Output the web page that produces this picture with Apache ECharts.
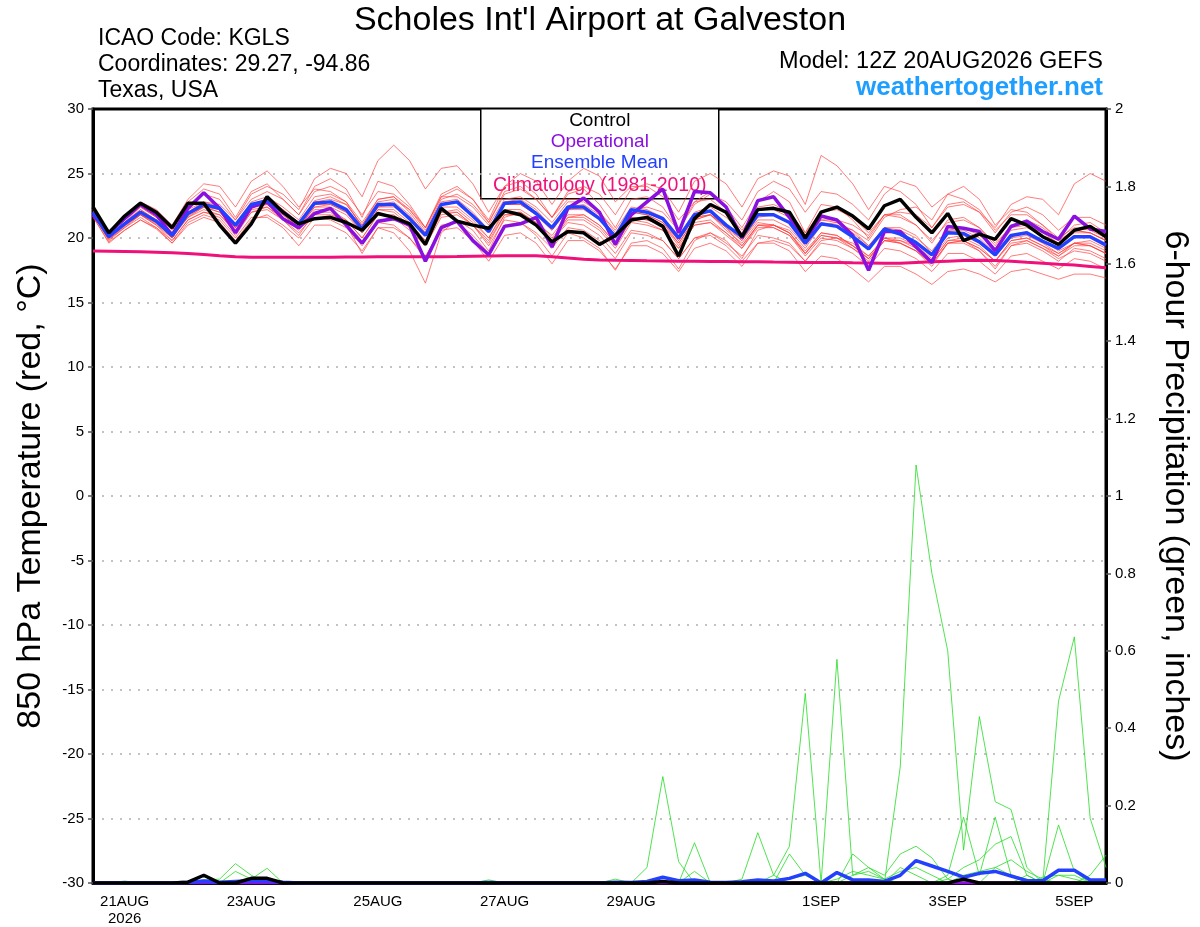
<!DOCTYPE html>
<html>
<head>
<meta charset="utf-8">
<title>Scholes Int'l Airport at Galveston</title>
<script src="https://cdn.jsdelivr.net/npm/echarts@6/dist/echarts.min.js"></script>
<style>
  html, body { margin: 0; padding: 0; background: #fff; }
  #chart { width: 1200px; height: 927px; }
</style>
</head>
<body>
<div id="chart"></div>
<script>
// 6-hourly steps from 20AUG 12Z to 5SEP 12Z (65 points)
const dayLabels = { 2: '21AUG\n2026', 10: '23AUG', 18: '25AUG', 26: '27AUG', 34: '29AUG', 46: '1SEP', 54: '3SEP', 62: '5SEP' };
const steps = Array.from({ length: 65 }, (v, i) => String(i));

const tempTicks = [-30, -25, -20, -15, -10, -5, 0, 5, 10, 15, 20, 25, 30];
const precipTicks = [0, 0.2, 0.4, 0.6, 0.8, 1, 1.2, 1.4, 1.6, 1.8, 2];

// 850 hPa temperature (C)
const control = [22.4,20.4,21.7,22.7,22.0,20.8,22.7,22.7,21.0,19.6,21.1,23.2,22.0,21.1,21.5,21.6,21.2,20.6,21.9,21.6,21.1,19.5,22.3,21.3,21.0,20.75,22.1,21.8,21.0,19.7,20.5,20.4,19.5,20.2,21.4,21.6,20.9,18.6,21.5,22.6,22.0,20.1,22.2,22.3,22.0,20.0,22.0,22.4,21.7,20.7,22.5,23.0,21.6,20.4,21.9,19.8,20.3,19.9,21.5,21.0,20.1,19.5,20.6,20.9,20.1];
const operational = [21.8,20.4,21.5,22.6,21.8,20.2,22.3,23.5,22.3,20.4,22.4,22.8,21.5,20.8,21.9,22.3,21.0,19.6,21.3,21.5,21.0,18.2,20.8,21.3,19.8,18.7,20.9,21.1,21.6,19.3,22.3,23.1,22.0,19.5,21.8,22.8,23.8,20.4,23.6,23.5,22.4,20.0,22.9,23.2,21.6,19.8,21.7,21.4,20.2,17.5,20.5,20.5,19.3,18.1,20.9,20.75,20.5,19.0,20.9,21.3,20.5,19.9,21.7,20.7,20.5];
const ensMean = [22.0,20.1,21.1,22.0,21.3,20.2,21.9,22.6,22.3,21.0,22.6,22.9,22.0,21.1,22.7,22.8,22.2,20.7,22.6,22.6,21.5,20.2,22.6,22.8,21.7,20.5,22.7,22.8,21.9,20.8,22.4,22.4,21.5,20.1,22.2,22.0,21.5,20.0,21.8,22.1,21.0,20.1,21.8,21.8,21.2,19.6,21.1,20.9,20.1,19.15,20.7,20.3,19.65,18.7,20.4,20.35,19.7,18.7,20.2,20.4,19.75,19.2,20.1,20.1,19.45];
const climatology = [19.0,18.98,18.96,18.93,18.9,18.86,18.8,18.72,18.62,18.55,18.5,18.5,18.5,18.5,18.5,18.5,18.52,18.53,18.55,18.55,18.55,18.55,18.55,18.56,18.58,18.6,18.62,18.63,18.62,18.55,18.45,18.35,18.3,18.27,18.25,18.23,18.22,18.2,18.2,18.18,18.17,18.15,18.15,18.13,18.12,18.1,18.1,18.1,18.08,18.07,18.05,18.05,18.1,18.15,18.2,18.25,18.27,18.25,18.2,18.12,18.05,17.97,17.9,17.8,17.7];

const tempMembers = [
  [22.3,20.3,21.6,22.6,21.9,20.6,22.8,23.8,23.4,21.6,23.6,24.2,23.0,21.8,24.0,24.6,23.8,21.6,24.4,24.0,22.6,20.8,23.4,24.0,23.0,21.2,23.6,24.0,23.0,21.6,23.4,23.8,22.6,20.8,23.0,23.2,22.4,20.6,22.8,23.6,22.4,20.8,22.8,23.6,22.8,20.4,22.6,22.4,21.4,20.0,21.8,21.8,21.0,19.6,21.4,21.6,20.8,19.4,21.0,21.4,20.8,19.8,21.0,21.2,20.4],
  [21.6,19.7,20.6,21.4,20.7,19.6,21.0,21.6,21.2,19.8,21.4,21.8,21.0,20.0,21.6,21.4,20.8,19.4,21.2,21.0,20.0,18.4,21.0,21.2,20.2,18.8,21.0,21.2,20.4,19.2,20.8,20.6,19.8,18.4,20.4,20.2,19.8,18.4,20.0,20.4,19.6,18.6,20.2,20.0,19.6,18.2,19.6,19.4,18.8,17.8,19.2,19.0,18.4,17.4,18.8,18.8,18.2,17.2,18.6,18.8,18.2,17.6,18.4,18.2,17.6],
  [22.2,20.0,21.2,22.4,21.6,20.4,22.4,23.4,23.0,21.4,23.4,24.0,23.4,22.2,24.6,25.4,25.0,23.2,26.0,27.2,26.0,23.8,25.4,25.6,24.2,22.0,24.0,24.4,23.4,21.6,23.0,23.0,22.0,20.4,22.0,21.8,21.2,19.6,21.4,21.8,20.8,19.4,21.0,21.0,20.4,18.8,20.4,20.2,19.4,18.4,19.8,19.6,19.0,18.0,19.6,19.8,19.2,18.2,19.8,20.0,19.4,18.6,19.6,19.6,19.0],
  [21.9,19.9,20.8,21.8,21.0,19.8,21.4,22.0,21.6,20.2,22.0,22.4,21.4,20.2,22.0,22.0,21.0,18.8,20.8,20.4,19.0,16.5,20.4,21.4,20.6,19.0,21.6,22.0,21.2,19.8,21.6,21.8,21.0,19.6,21.6,21.4,21.0,19.4,21.2,21.4,20.4,19.4,21.0,21.0,20.4,18.8,20.2,20.0,19.2,18.2,19.8,19.6,19.0,18.0,19.6,19.8,19.0,17.8,19.4,19.8,19.2,18.6,19.4,19.4,18.8],
  [22.1,20.2,21.2,22.0,21.2,20.0,21.8,22.6,22.4,21.0,22.8,23.2,22.4,21.4,23.2,23.4,22.8,21.2,23.0,23.2,22.2,20.6,23.0,23.4,22.6,21.2,23.4,23.8,23.0,21.6,23.6,24.0,23.4,21.8,23.8,24.2,23.8,22.0,24.4,25.0,24.2,22.4,24.6,25.2,24.8,22.6,26.4,25.6,24.2,22.2,24.0,23.6,22.6,20.8,22.6,22.8,22.0,20.4,22.0,22.4,21.8,20.6,21.6,21.6,21.0],
  [22.0,20.0,21.0,21.8,21.2,20.2,21.6,22.2,21.8,20.6,22.2,22.4,21.6,20.6,22.2,22.2,21.4,20.0,21.8,21.6,20.6,19.4,21.6,21.8,21.0,19.8,21.8,21.8,21.0,19.8,21.2,21.0,20.2,18.8,20.6,20.4,19.8,18.4,20.0,20.2,19.4,18.2,19.6,19.6,19.0,17.4,18.6,18.4,17.6,16.6,17.8,17.8,17.2,16.4,17.4,17.6,17.2,16.6,17.4,17.6,17.2,16.8,17.2,17.2,16.9],
  [22.4,20.4,21.4,22.4,21.6,20.4,22.2,22.8,22.6,21.4,23.0,23.6,23.0,21.8,23.6,24.0,23.4,21.8,23.6,23.4,22.4,20.8,23.2,23.2,22.4,21.0,23.0,23.2,22.4,21.2,22.8,22.8,22.0,20.6,22.4,22.2,21.6,20.2,22.0,22.4,21.6,20.4,22.4,22.6,22.0,20.4,22.0,22.2,21.6,20.4,21.8,21.6,21.0,19.8,21.2,21.4,20.8,19.6,20.8,21.0,20.4,19.6,20.6,20.4,19.8],
  [21.8,19.8,20.8,21.6,20.8,19.8,21.4,22.0,21.8,20.4,22.0,22.2,21.4,20.4,21.8,21.8,21.4,20.0,21.8,21.8,20.8,19.6,21.8,22.0,21.0,19.6,21.8,21.8,21.0,19.8,21.4,21.4,20.6,19.2,21.2,21.0,20.6,19.2,21.0,21.2,20.2,19.2,21.0,20.8,20.2,18.8,20.2,20.0,19.4,18.4,20.0,19.6,19.0,17.8,19.6,19.6,19.0,17.6,19.4,19.6,19.0,18.2,19.2,19.0,18.4],
  [22.2,20.1,21.2,22.2,21.4,20.2,22.0,22.8,22.4,20.8,22.6,23.0,22.2,21.2,22.8,23.0,22.6,21.0,22.8,23.0,22.2,20.8,23.2,23.8,23.0,21.4,24.0,25.0,24.4,22.6,24.4,25.4,24.8,22.8,24.0,24.0,23.2,21.4,22.8,23.0,22.0,20.6,22.2,22.2,21.6,20.0,21.4,21.2,20.4,19.4,20.8,20.6,20.0,19.0,20.6,20.8,20.2,19.2,20.6,20.8,20.2,19.6,20.4,20.4,19.8],
  [21.9,20.0,21.0,21.8,21.0,20.0,21.6,22.4,22.0,20.8,22.4,22.6,21.8,20.8,22.4,22.6,22.0,20.4,22.2,22.2,21.2,19.8,22.0,22.2,21.2,20.0,22.0,22.0,21.2,20.2,21.8,21.8,21.0,19.6,21.6,21.4,21.0,19.6,21.4,21.8,21.0,19.8,21.6,21.8,21.2,19.8,21.4,21.4,21.0,20.2,21.8,22.0,21.8,20.8,22.4,22.6,22.0,20.8,22.6,23.2,23.0,21.8,24.2,25.0,24.4],
  [22.3,20.4,21.6,22.8,22.2,21.0,23.0,24.2,24.0,22.4,24.4,25.2,24.0,22.4,23.8,23.6,22.8,20.8,22.6,22.8,21.8,20.2,22.4,22.4,21.4,20.0,22.2,22.2,21.4,20.0,21.6,21.6,20.8,19.4,21.4,21.2,20.6,19.2,21.0,21.2,20.4,19.2,20.8,20.8,20.2,18.6,20.0,19.8,19.2,18.4,19.8,19.8,19.4,18.4,20.0,20.2,19.6,18.6,20.0,20.2,19.6,18.8,19.6,19.4,18.8],
  [21.7,19.6,20.6,21.4,20.8,19.6,21.2,21.8,21.4,20.0,21.6,21.6,20.8,19.4,21.0,21.0,20.4,19.0,20.8,20.8,20.0,18.6,20.6,20.8,19.8,18.2,20.2,20.4,19.6,18.0,19.8,19.8,19.0,17.6,19.4,19.4,18.8,17.4,19.2,19.6,19.0,17.8,19.6,19.8,19.4,18.2,19.8,20.0,19.6,18.6,20.0,20.0,19.4,18.2,19.8,20.0,19.4,18.2,19.6,19.8,19.2,18.4,19.0,18.8,18.2],
  [22.0,20.1,21.0,22.0,21.4,20.4,22.0,22.6,22.2,21.0,22.6,22.8,22.0,21.0,22.6,22.6,22.0,20.6,22.4,22.4,21.6,20.4,22.6,22.8,21.8,20.6,22.6,22.6,21.8,20.6,22.2,22.4,21.6,20.2,22.2,22.4,22.0,20.6,22.6,23.4,22.8,21.4,23.6,24.4,23.8,22.0,23.6,23.4,22.6,21.4,23.4,24.4,24.0,22.4,23.4,23.0,22.2,20.6,21.8,21.8,21.0,20.0,20.8,20.6,20.0],
  [22.1,20.2,21.2,22.0,21.2,20.0,21.8,22.4,22.0,20.8,22.4,22.6,21.8,20.8,22.4,22.4,21.8,20.4,22.2,22.0,21.0,19.8,22.0,22.0,21.0,19.4,21.4,21.2,20.2,18.6,20.4,20.0,19.2,17.5,19.6,19.8,19.2,17.6,19.8,20.4,19.8,18.4,20.6,21.0,20.6,19.2,21.0,21.2,20.6,19.4,20.8,20.8,20.2,18.8,20.6,20.6,20.0,18.8,20.2,20.4,19.8,19.0,19.6,19.4,18.8],
  [22.2,20.2,21.2,22.2,21.4,20.2,22.0,22.6,22.2,20.8,22.4,22.8,22.0,20.8,22.6,22.8,22.2,20.6,22.4,22.6,21.6,20.2,22.6,22.8,21.8,20.4,22.6,22.6,21.8,20.6,22.2,22.2,21.4,20.0,22.0,21.8,21.2,19.8,21.6,21.8,20.8,19.8,21.4,21.4,20.8,19.4,21.0,21.0,20.6,19.8,21.6,22.2,22.4,21.4,23.4,24.0,23.0,21.0,22.2,22.0,21.0,19.8,20.6,20.4,19.8],
  [21.8,19.9,20.9,21.8,21.1,20.1,21.7,22.4,22.2,20.9,22.6,23.0,22.2,21.2,22.9,23.2,22.6,21.0,23.0,23.2,22.0,20.4,22.8,23.0,22.0,20.6,22.8,23.0,22.2,20.8,22.4,22.6,21.8,20.2,22.2,22.0,21.4,19.8,21.6,21.8,20.6,19.6,21.2,21.0,20.4,19.0,20.4,20.2,19.4,18.6,20.0,19.8,19.2,18.2,19.8,19.8,19.2,18.2,19.8,20.0,19.4,18.8,19.6,19.8,19.2]
];

// 6-hour precipitation (inches)
const precipControl = [0,0,0,0,0,0,0.002,0.02,0,0,0.012,0.012,0,0,0,0,0,0,0,0,0,0,0,0,0,0,0,0,0,0,0,0,0,0,0,0,0.004,0,0,0,0,0,0,0,0,0,0,0,0,0,0,0,0,0,0,0.01,0,0,0,0,0,0,0,0,0];
const precipOperational = [0,0,0,0,0,0,0,0,0,0,0,0,0,0,0,0,0,0,0,0,0,0,0,0,0,0,0,0,0,0,0,0,0,0,0,0,0,0,0,0,0,0,0,0,0,0,0,0,0,0,0,0,0,0,0,0,0,0,0,0,0,0,0,0,0];
const precipMean = [0,0,0,0,0,0,0.002,0.005,0.002,0.004,0.006,0.006,0.002,0,0,0,0,0,0,0,0,0,0,0,0,0.001,0,0,0,0,0,0,0,0.002,0.001,0.004,0.015,0.006,0.008,0.002,0.001,0.003,0.008,0.005,0.012,0.025,0,0.027,0.008,0.008,0.004,0.02,0.058,0.044,0.03,0.015,0.025,0.03,0.018,0.006,0.006,0.033,0.033,0.008,0.008];

const precipMembers = [
  [0,0,0,0,0,0,0,0,0,0,0,0,0,0,0,0,0,0,0,0,0,0,0,0,0,0,0,0,0,0,0,0,0,0,0,0,0,0,0,0,0,0,0,0,0,0,0,0,0,0,0,0.30,1.08,0.80,0.60,0.085,0.43,0.21,0.19,0.04,0,0,0,0,0],
  [0,0,0,0,0,0,0,0,0,0,0,0,0,0,0,0,0,0,0,0,0,0,0,0,0,0,0,0,0,0,0,0,0,0,0,0,0,0,0,0,0,0,0,0,0,0,0,0.578,0.02,0.04,0.01,0,0,0,0,0,0,0,0,0,0,0,0,0,0],
  [0,0,0,0,0,0,0,0,0,0,0,0,0,0,0,0,0,0,0,0,0,0,0,0,0,0,0,0,0,0,0,0,0,0,0,0,0,0,0,0,0,0,0,0.02,0.095,0.49,0,0,0,0,0,0,0,0,0,0,0,0,0,0,0,0,0,0,0],
  [0,0,0,0,0,0,0,0,0,0,0,0,0,0,0,0,0,0,0,0,0,0,0,0,0,0,0,0,0,0,0,0,0,0,0,0.04,0.275,0.055,0,0,0,0,0,0,0,0,0,0,0,0,0,0,0,0,0,0,0,0,0,0,0,0,0,0,0],
  [0,0,0,0,0,0,0,0,0,0,0,0,0,0,0,0,0,0,0,0,0,0,0,0,0,0,0,0,0,0,0,0,0,0,0,0,0,0,0,0,0,0,0,0,0,0,0,0,0,0,0,0,0,0,0,0,0,0,0,0,0,0.47,0.636,0.167,0.04],
  [0,0,0,0,0,0,0,0,0,0,0,0,0,0,0,0,0,0,0,0,0,0,0,0,0,0,0,0,0,0,0,0,0,0,0,0,0,0,0.104,0,0,0,0,0,0,0,0,0,0,0,0,0,0,0,0,0,0,0,0,0,0,0,0,0,0],
  [0,0,0,0,0,0,0,0,0,0,0,0,0,0,0,0,0,0,0,0,0,0,0,0,0,0,0,0,0,0,0,0,0,0,0,0,0,0,0.03,0,0,0.01,0.13,0.02,0,0,0,0,0,0,0,0,0,0,0,0,0,0,0,0,0,0,0,0,0],
  [0,0,0,0,0,0,0,0,0,0,0,0,0,0,0,0,0,0,0,0,0,0,0,0,0,0,0,0,0,0,0,0,0,0,0,0,0,0,0,0,0,0,0,0,0.075,0.02,0,0,0.075,0.04,0.02,0.075,0.095,0.065,0.01,0,0,0,0,0,0,0,0,0,0],
  [0,0,0,0,0,0,0,0,0,0,0,0,0,0,0,0,0,0,0,0,0,0,0,0,0,0,0,0,0,0,0,0,0,0,0,0,0,0,0,0,0,0,0,0,0,0,0,0,0,0,0,0,0,0,0.02,0.17,0.02,0.17,0.02,0,0,0,0,0,0],
  [0,0,0,0,0,0,0,0,0,0,0,0,0,0,0,0,0,0,0,0,0,0,0,0,0,0,0,0,0,0,0,0,0,0,0,0,0,0,0,0,0,0,0,0,0,0,0,0,0,0,0,0,0,0,0,0,0,0,0,0.02,0,0.15,0.03,0,0],
  [0,0,0,0,0,0,0,0,0,0,0,0,0,0,0,0,0,0,0,0,0,0,0,0,0,0,0,0,0,0,0,0,0,0,0,0,0,0,0,0,0,0,0,0,0,0,0,0,0,0,0,0.04,0.02,0,0.01,0.04,0.06,0.1,0.12,0.02,0,0,0,0,0],
  [0,0,0,0,0,0,0,0,0,0,0,0,0,0,0,0,0,0,0,0,0,0,0,0,0,0,0,0,0,0,0,0,0,0,0,0,0,0,0,0,0,0,0,0,0,0,0,0,0.02,0.03,0.01,0,0,0,0,0,0,0.04,0.06,0.03,0.01,0,0,0.02,0.072],
  [0,0,0,0,0,0,0,0.008,0.01,0.05,0.02,0,0,0,0,0,0,0,0,0,0,0,0,0,0,0,0,0,0,0,0,0,0,0,0,0,0,0,0,0,0,0,0,0,0,0,0,0,0,0,0,0,0,0,0,0,0,0,0,0,0,0,0,0,0],
  [0,0,0,0,0,0,0,0,0,0.03,0.01,0.038,0,0,0,0,0,0,0,0,0,0,0,0,0,0,0,0,0,0,0,0,0,0,0,0,0,0,0,0,0,0,0,0,0,0,0,0,0,0,0,0,0,0,0,0,0,0,0,0,0.015,0.02,0.01,0,0],
  [0,0,0.005,0,0,0,0,0,0,0,0,0,0,0,0,0,0,0,0,0,0,0,0,0,0,0.008,0,0,0,0,0,0,0,0.01,0,0,0,0,0,0,0,0,0,0,0,0,0,0,0,0,0,0,0,0,0,0,0,0,0,0,0,0,0,0,0],
  [0,0,0,0,0,0,0,0,0,0,0,0,0,0,0,0,0,0,0,0,0,0,0,0,0,0,0,0,0,0,0,0,0,0,0,0,0,0,0,0,0,0,0,0,0.01,0.02,0,0.01,0.03,0.02,0.01,0.03,0.04,0.02,0,0.02,0.03,0.04,0.02,0.01,0,0.02,0.02,0,0]
];

const chart = echarts.init(document.getElementById('chart'), null, { renderer: 'canvas' });

const thinLine = (name, data, color, yAxisIndex) => ({
  name: name,
  type: 'line',
  yAxisIndex: yAxisIndex,
  data: data,
  showSymbol: false,
  silent: true,
  lineStyle: { color: color, width: 0.9 },
  z: 2
});

const thickLine = (name, data, color, yAxisIndex, width) => ({
  name: name,
  type: 'line',
  yAxisIndex: yAxisIndex,
  data: data,
  showSymbol: false,
  silent: true,
  lineStyle: { color: color, width: width },
  z: 5
});

const series = [];
precipMembers.forEach((m, k) => series.push(thinLine('p' + k, m, 'rgba(40,220,40,0.9)', 1)));
tempMembers.forEach((m, k) => series.push(thinLine('t' + k, m, 'rgba(255,60,60,0.75)', 0)));
series.push(thickLine('Climatology', climatology, '#f0107a', 0, 3));
series.push(thickLine('Operational P', precipOperational, '#8a10e0', 1, 3));
series.push(thickLine('Ensemble Mean P', precipMean, '#2440ff', 1, 3.5));
series.push(thickLine('Control P', precipControl, '#000', 1, 3.5));
series.push(thickLine('Operational', operational, '#8a10e0', 0, 3.5));
series.push(thickLine('Ensemble Mean', ensMean, '#2440ff', 0, 3.5));
series.push(thickLine('Control', control, '#000', 0, 3.5));

const font = '"Liberation Sans", Arial, Helvetica, sans-serif';

chart.setOption({
  animation: false,
  backgroundColor: '#fff',
  textStyle: { fontFamily: font },
  grid: {
    left: 93, right: 93, top: 109, bottom: 44,
    show: true, borderColor: '#000', borderWidth: 3, backgroundColor: 'transparent'
  },
  title: {
    text: "Scholes Int'l Airport at Galveston",
    left: 'center', top: -1,
    textStyle: { fontFamily: font, fontSize: 34, fontWeight: 'normal', color: '#000' }
  },
  graphic: [
    { type: 'text', left: 98, top: 27, style: { text: 'ICAO Code: KGLS', font: '23px ' + font, fill: '#000' } },
    { type: 'text', left: 98, top: 53, style: { text: 'Coordinates: 29.27, -94.86', font: '23px ' + font, fill: '#000' } },
    { type: 'text', left: 98, top: 79, style: { text: 'Texas, USA', font: '23px ' + font, fill: '#000' } },
    { type: 'text', right: 97, top: 50, style: { text: 'Model: 12Z 20AUG2026 GEFS', font: '23.5px ' + font, fill: '#000' } },
    { type: 'text', right: 97, top: 75, style: { text: 'weathertogether.net', font: 'bold 26px ' + font, fill: '#1e9eff' } },
    {
      type: 'group', left: 480, top: 108, z: 20,
      children: [
        { type: 'rect', shape: { x: 0, y: 0, width: 238, height: 90 }, style: { fill: '#fff', stroke: '#000', lineWidth: 1.5 } },
        { type: 'text', x: 119, y: 3, style: { text: 'Control', font: '19px ' + font, fill: '#000', textAlign: 'center' } },
        { type: 'text', x: 119, y: 24, style: { text: 'Operational', font: '19px ' + font, fill: '#8a10e0', textAlign: 'center' } },
        { type: 'text', x: 119, y: 45, style: { text: 'Ensemble Mean', font: '19px ' + font, fill: '#2440ff', textAlign: 'center' } },
        { type: 'text', x: 119, y: 67, style: { text: 'Climatology (1981-2010)', font: '19.5px ' + font, fill: '#f0107a', textAlign: 'center' } }
      ]
    }
  ],
  xAxis: {
    type: 'category',
    data: steps,
    boundaryGap: false,
    axisLine: { onZero: false, lineStyle: { color: '#000', width: 3 } },
    axisTick: { show: false },
    splitLine: { show: false },
    axisLabel: {
      interval: (i) => dayLabels[i] !== undefined,
      formatter: (v, i) => dayLabels[i] || '',
      color: '#000', fontSize: 15, fontFamily: font, margin: 10, lineHeight: 17
    }
  },
  yAxis: [
    {
      type: 'value',
      min: tempTicks[0], max: tempTicks[tempTicks.length - 1], interval: 5,
      position: 'left',
      name: '850 hPa Temperature (red, \u00B0C)',
      nameLocation: 'middle', nameRotate: 90, nameGap: 45,
      nameTextStyle: { fontSize: 34, color: '#000', fontFamily: font },
      axisLine: { show: true, lineStyle: { color: '#000', width: 3 } },
      axisTick: { show: true, length: 5, lineStyle: { color: '#555', width: 1.5 } },
      axisLabel: { color: '#000', fontSize: 15, fontFamily: font, margin: 9 },
      splitLine: { show: true, showMinLine: false, showMaxLine: false, lineStyle: { color: '#b0b0b0', type: [2, 7], width: 1.5 } }
    },
    {
      type: 'value',
      min: precipTicks[0], max: precipTicks[precipTicks.length - 1], interval: 0.2,
      position: 'right',
      name: '6-hour Precipitation (green, inches)',
      nameLocation: 'middle', nameRotate: -90, nameGap: 52,
      nameTextStyle: { fontSize: 34, color: '#000', fontFamily: font },
      axisLine: { show: true, lineStyle: { color: '#000', width: 3 } },
      axisTick: { show: true, length: 5, lineStyle: { color: '#555', width: 1.5 } },
      axisLabel: { color: '#000', fontSize: 15, fontFamily: font, margin: 9 },
      splitLine: { show: false }
    }
  ],
  series: series
});
</script>
</body>
</html>
